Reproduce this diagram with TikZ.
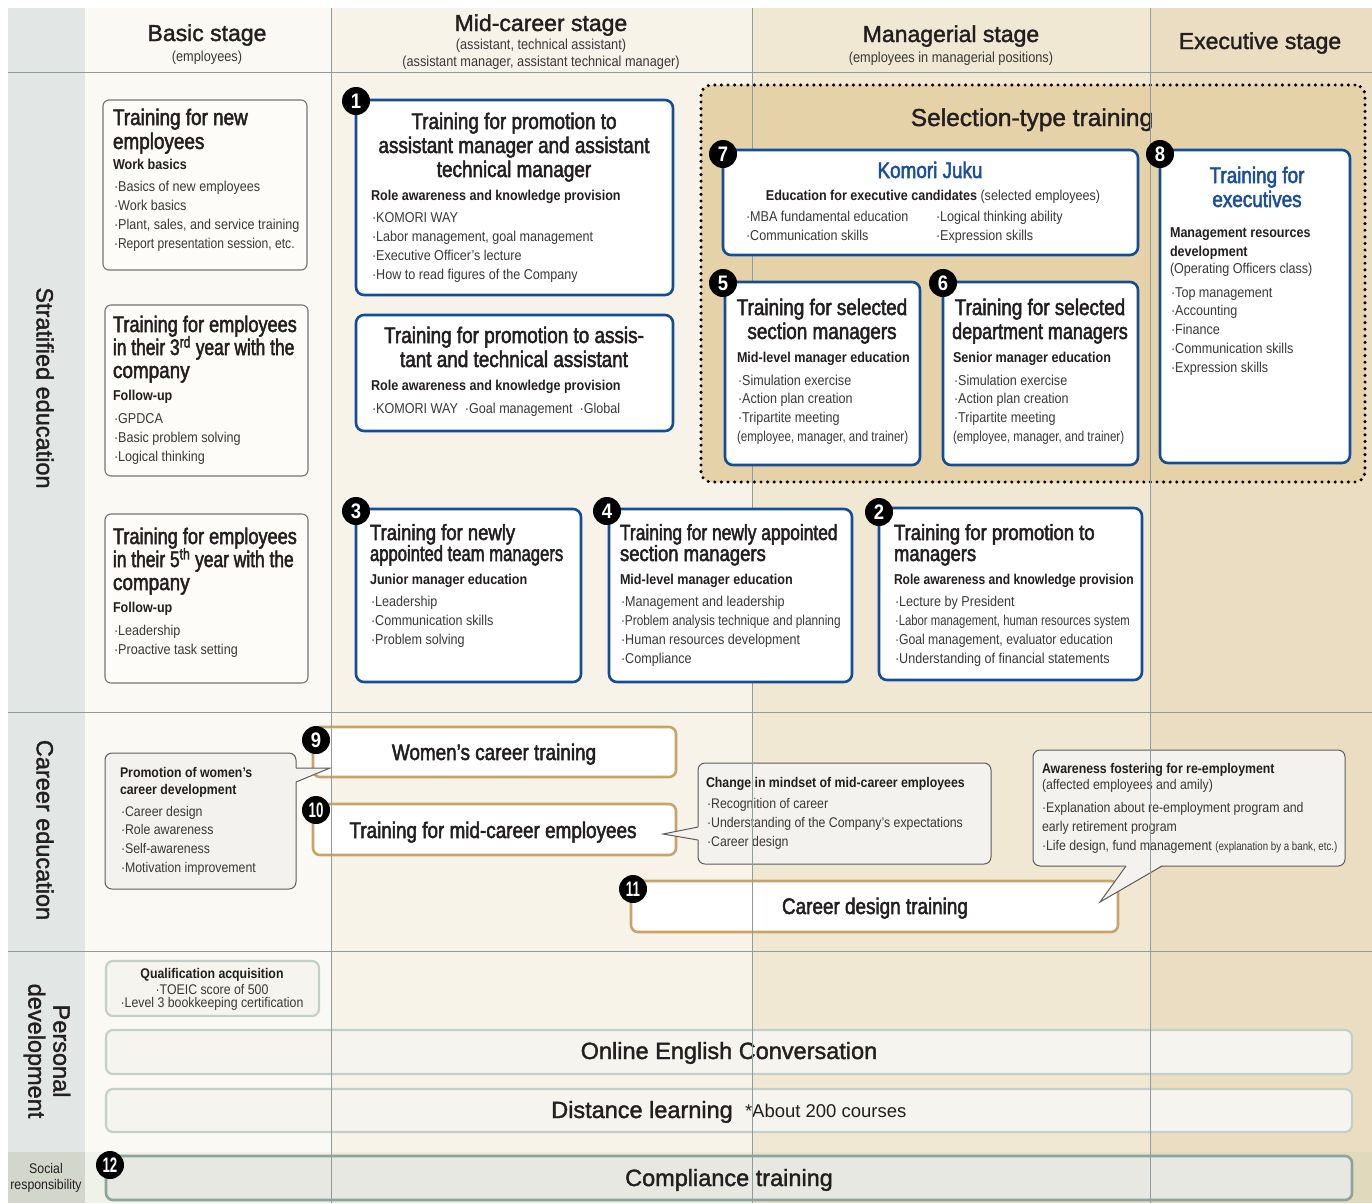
\documentclass[tikz,border=0pt]{standalone}
\usepackage{fontspec}
\setmainfont{Liberation Sans}
\newfontfamily\cn[FakeStretch=0.88]{Liberation Sans}
\newfontfamily\cnt[FakeStretch=0.84,FakeBold=2.2]{Liberation Sans}
\newfontfamily\hv[FakeBold=1.6]{Liberation Sans}
\usepackage{graphicx}
\definecolor{ink}{HTML}{231F20}
\definecolor{ink2}{HTML}{3A3838}
\definecolor{leftc}{HTML}{E2E6E4}
\definecolor{colA}{HTML}{FAF9F4}
\definecolor{colB}{HTML}{F7F3E8}
\definecolor{colC}{HTML}{F1E8D4}
\definecolor{colD}{HTML}{EBDDC1}
\definecolor{gridc}{HTML}{8F9B9D}
\definecolor{selc}{HTML}{E6D2A9}
\definecolor{blueb}{HTML}{134D95}
\definecolor{bluet}{HTML}{1B4F9B}
\definecolor{tanb}{HTML}{C8A46B}
\definecolor{grayb}{HTML}{747474}
\definecolor{grayf}{HTML}{FDFCF9}
\definecolor{callf}{HTML}{F3F2EE}
\definecolor{callb}{HTML}{5C5C5C}
\definecolor{pb}{HTML}{C3CFC9}
\definecolor{pf}{HTML}{F5F4EF}
\definecolor{cb}{HTML}{8DA39C}
\definecolor{cf}{HTML}{E6E8E1}
\definecolor{socc}{HTML}{D3D6CA}
\tikzset{
 zsep/.style={inner sep=0pt, outer sep=0pt},
 boxbase/.style={zsep, anchor=north west, rectangle},
 graybox/.style={boxbase, draw=grayb, line width=1.1pt, fill=grayf, rounded corners=6pt},
 bluebox/.style={boxbase, draw=blueb, line width=2.6pt, fill=white, rounded corners=8pt},
 tanbox/.style={boxbase, draw=tanb, line width=2.6pt, fill=white, rounded corners=7pt},
 callbox/.style={boxbase, draw=callb, line width=1pt, fill=callf, rounded corners=7pt},
 pbox/.style={boxbase, draw=pb, line width=2.2pt, fill=pf, rounded corners=7pt},
 compbox/.style={boxbase, draw=cb, line width=2.6pt, fill=cf, rounded corners=7pt},
 selbox/.style={boxbase, fill=selc, draw=black, line width=3.4pt, dash pattern=on 0pt off 6.6pt, line cap=round, rounded corners=10pt},
 txt/.style={zsep, anchor=base west, text=ink},
 ttl/.style={txt, font=\cnt\fontsize{22.5}{24}\selectfont},
 ttlc/.style={ttl, anchor=base},
 ttls/.style={txt, font=\cnt\fontsize{22}{21}\selectfont},
 sub/.style={txt, font=\cn\bfseries\fontsize{14.3}{19}\selectfont},
 itm/.style={txt, font=\cn\fontsize{14.3}{19}\selectfont, text=ink2},
 csub/.style={txt, font=\cn\bfseries\fontsize{14}{17}\selectfont},
 citm/.style={txt, font=\cn\fontsize{14}{17}\selectfont, text=ink2},
 hd/.style={zsep, anchor=base, text=ink, font=\hv\fontsize{23}{23}\selectfont},
 hs/.style={zsep, anchor=base, text=ink2, font=\cn\fontsize{14.5}{15}\selectfont},
 rot/.style={zsep, anchor=center, rotate=-90, text=ink, font=\hv\fontsize{23.5}{25}\selectfont, align=center},
 big/.style={zsep, anchor=base, text=ink, font=\hv\fontsize{23.5}{24}\selectfont},
 careert/.style={zsep, anchor=base, text=ink, font=\cnt\fontsize{22.5}{24}\selectfont},
 badge/.style={zsep, circle, fill=black, text=white, minimum size=28pt, font=\cn\bfseries\fontsize{21}{21}\selectfont},
 gridln/.style={draw=gridc, line width=0.9pt},
}
\newcommand\bx[6]{\node[#6, minimum width=#4-#2, minimum height=#5-#3] (#1) at (#2,#3) {};}
\newcommand\lns[6]{\foreach \itm [count=\k from 0] in {#6}{\node[#5] (#1\k) at (#2,{#3+\k*#4}) {\itm};}}
\newcommand\bdg[4]{\node[badge] (#1) at (#2,#3) {#4};}
\newcommand\sq[2]{\scalebox{#1}[1]{#2}}
\begin{document}
\begin{tikzpicture}[x=1pt,y=-1pt]
\useasboundingbox (0,0) rectangle (1372,1203);
\fill[white] (0,0) rectangle (1372,1203);
% columns
\fill[leftc] (8,8) rectangle (85,1203);
\fill[colA] (85,8) rectangle (331,1203);
\fill[colB] (331,8) rectangle (752,1203);
\fill[colC] (752,8) rectangle (1150,1203);
\fill[colD] (1150,8) rectangle (1372,1203);
\fill[black!60!green!40, opacity=0.12] (85,1152) rectangle (1372,1203);
\fill[socc] (8,1152) rectangle (85,1203);
% header
\node[hd] (hA) at (207,41) {Basic stage};
\node[hs] (hAs) at (207,61) {(employees)};
\node[hd] (hB) at (541,31) {Mid-career stage};
\node[hs] (hBs1) at (541,49) {(assistant, technical assistant)};
\node[hs] (hBs2) at (541,66) {(assistant manager, assistant technical manager)};
\node[hd] (hC) at (951,42) {Managerial stage};
\node[hs] (hCs) at (951,62) {(employees in managerial positions)};
\node[hd] (hD) at (1260,49) {Executive stage};
% left labels
\node[rot] (lS) at (45,388) {Stratified education};
\node[rot] (lC) at (45,830) {Career education};
\node[rot] (lP) at (47,1051) {Personal\\development};
\node[zsep, align=center, font=\cn\fontsize{14}{16.5}\selectfont, text=ink] (lR) at (46,1178) {Social\\responsibility};
% selection region
\bx{sel}{701}{85}{1365}{482}{selbox}
\node[big, font=\hv\fontsize{24.5}{25}\selectfont] (selT) at (1032,126) {Selection-type training};
% basic stage boxes
\bx{bA}{103}{100}{307}{270}{graybox}
\lns{tA}{113}{125}{24}{ttl}{Training for new,employees}
\node[sub] (sA) at (113,169) {Work basics};
\lns{iA}{114}{191}{19}{itm}{·Basics of new employees,·Work basics,{·Plant, sales, and service training},{\sq{0.96}{·Report presentation session, etc.}}}
\bx{bB}{105}{305}{308}{476}{graybox}
\lns{tB}{113}{332}{23}{ttl}{\sq{0.96}{Training for employees},\sq{0.92}{in their 3\textsuperscript{rd} year with the},company}
\node[sub] (sB) at (113,400) {Follow-up};
\lns{iB}{114}{423}{19}{itm}{·GPDCA,·Basic problem solving,·Logical thinking}
\bx{bC}{105}{514}{308}{683}{graybox}
\lns{tC}{113}{544}{23}{ttl}{\sq{0.96}{Training for employees},\sq{0.92}{in their 5\textsuperscript{th} year with the},company}
\node[sub] (sC) at (113,612) {Follow-up};
\lns{iC}{114}{635}{19}{itm}{·Leadership,·Proactive task setting}
% career boxes
\bx{cW}{313}{727}{676}{777}{tanbox}
\node[careert] (cWt) at (494,760) {Women’s career training};
\bx{cM}{313}{804}{676}{855}{tanbox}
\node[careert] (cMt) at (493,838) {Training for mid-career employees};
\bx{cD}{631}{881}{1118}{932}{tanbox}
\node[careert] (cDt) at (875,914) {Career design training};
% callouts
\bx{kW}{105}{753}{296}{889}{callbox}
\fill[callf] (295,768) -- (330,768) -- (295,782) -- cycle;
\draw[callb, line width=1pt, line join=miter] (296,768) -- (330,768) -- (296,782);
\lns{kWs}{120}{777}{17}{csub}{Promotion of women’s,career development}
\lns{kWi}{121}{816}{18.7}{citm}{·Career design,·Role awareness,·Self-awareness,·Motivation improvement}
\bx{kM}{698}{763}{991}{864}{callbox}
\fill[callf] (699,827) -- (663,834) -- (699,840) -- cycle;
\draw[callb, line width=1pt] (698,827) -- (663,834) -- (698,840);
\node[csub] (kMs) at (706,787) {Change in mindset of mid-career employees};
\lns{kMi}{707}{808}{19}{citm}{·Recognition of career,·Understanding of the Company’s expectations,·Career design}
\bx{kR}{1033}{750}{1345}{866}{callbox}
\fill[callf] (1126,865) -- (1100,902) -- (1162,865) -- cycle;
\draw[callb, line width=1pt] (1126,866) -- (1100,902) -- (1162,866);
\node[csub] (kRs) at (1042,773) {Awareness fostering for re-employment};
\node[citm] (kRs2) at (1042,789) {(affected employees and amily)};
\lns{kRi}{1042}{812}{19}{citm}{·Explanation about re-employment program and,early retirement program,{·Life design, fund management {\fontsize{12}{12}\selectfont\sq{0.92}{(explanation by a bank, etc.)}}}}
% personal development
\bx{pQ}{106}{961}{319}{1016}{pbox}
\node[zsep, anchor=base, font=\cn\bfseries\fontsize{14}{13}\selectfont, text=ink] (pQa) at (212,978) {Qualification acquisition};
\node[zsep, anchor=base, font=\cn\fontsize{14}{13}\selectfont, text=ink2] (pQb) at (212,994) {·TOEIC score of 500};
\node[zsep, anchor=base, font=\cn\fontsize{14}{13}\selectfont, text=ink2] (pQc) at (212,1007) {·Level 3 bookkeeping certification};
\bx{pO}{106}{1030}{1352}{1074}{pbox}
\node[big] (pOt) at (729,1059) {Online English Conversation};
\bx{pD}{106}{1089}{1352}{1132}{pbox}
\node[big] (pDt) at (642,1118) {Distance learning};
\node[zsep, anchor=base west, text=ink, font=\fontsize{18.5}{19}\selectfont] (pDn) at (745,1117) {*About 200 courses};
\bx{pC}{106}{1156}{1352}{1200}{compbox}
\node[big] (pCt) at (729,1186) {Compliance training};
% grid lines
\draw[gridln] (8,72) -- (1372,72);
\draw[gridln] (8,712) -- (1372,712);
\draw[gridln] (8,951) -- (1372,951);
\draw[gridln] (331,8) -- (331,1203);
\draw[gridln] (752,8) -- (752,1203);
\draw[gridln] (1150,8) -- (1150,1203);
% blue boxes
\bx{b1}{356}{100}{673}{295}{bluebox}
\lns{t1}{514}{129}{24}{ttlc}{Training for promotion to,assistant manager and assistant,technical manager}
\node[sub] (s1) at (371,200) {Role awareness and knowledge provision};
\lns{i1}{372}{222}{19}{itm}{·KOMORI WAY,{·Labor management, goal management},·Executive Officer’s lecture,·How to read figures of the Company}
\bx{b1b}{356}{315}{673}{431}{bluebox}
\lns{t1b}{514}{343}{24}{ttlc}{Training for promotion to assis-,tant and technical assistant}
\node[sub] (s1b) at (371,390) {Role awareness and knowledge provision};
\node[itm] (i1b) at (372,413) {·KOMORI WAY\hspace{7pt}·Goal management\hspace{7pt}·Global};
\bx{b7}{723}{150}{1138}{255}{bluebox}
\node[ttlc, text=bluet] (t7) at (930,178) {Komori Juku};
\node[itm, anchor=base, text=ink] (s7) at (933,200) {\textbf{Education for executive candidates} {\color{ink2}(selected employees)}};
\lns{i7a}{746}{221}{19}{itm}{·MBA fundamental education,·Communication skills}
\lns{i7b}{936}{221}{19}{itm}{·Logical thinking ability,·Expression skills}
\bx{b8}{1160}{150}{1350}{463}{bluebox}
\lns{t8}{1257}{183}{24}{ttlc, text=bluet}{Training for,executives}
\lns{s8}{1170}{237}{19}{sub}{Management resources,development}
\node[itm] (s8c) at (1170,273) {(Operating Officers class)};
\lns{i8}{1171}{297}{18.8}{itm}{·Top management,·Accounting,·Finance,·Communication skills,·Expression skills}
\bx{b5}{725}{282}{920}{465}{bluebox}
\lns{t5}{822}{315}{24}{ttlc}{Training for selected,section managers}
\node[sub] (s5) at (737,362) {Mid-level manager education};
\lns{i5}{738}{385}{18.7}{itm}{·Simulation exercise,·Action plan creation,·Tripartite meeting}
\node[itm] (i5x) at (737,441) {\sq{0.92}{(employee, manager, and trainer)}};
\bx{b6}{943}{282}{1138}{465}{bluebox}
\lns{t6}{1040}{315}{24}{ttlc}{Training for selected,\sq{0.95}{department managers}}
\node[sub] (s6) at (953,362) {Senior manager education};
\lns{i6}{954}{385}{18.7}{itm}{·Simulation exercise,·Action plan creation,·Tripartite meeting}
\node[itm] (i6x) at (953,441) {\sq{0.92}{(employee, manager, and trainer)}};
\bx{b3}{356}{509}{581}{682}{bluebox}
\lns{t3}{370}{540}{21}{ttls}{Training for newly,\sq{0.9}{appointed team managers}}
\node[sub] (s3) at (370,584) {Junior manager education};
\lns{i3}{371}{606}{19}{itm}{·Leadership,·Communication skills,·Problem solving}
\bx{b4}{609}{509}{852}{682}{bluebox}
\lns{t4}{620}{540}{21}{ttls}{\sq{0.94}{Training for newly appointed},section managers}
\node[sub] (s4) at (620,584) {Mid-level manager education};
\lns{i4}{621}{606}{19}{itm}{·Management and leadership,\sq{0.94}{·Problem analysis technique and planning},·Human resources development,·Compliance}
\bx{b2}{879}{508}{1142}{680}{bluebox}
\lns{t2}{894}{540}{21}{ttls}{Training for promotion to,managers}
\node[sub] (s2) at (894,584) {\sq{0.96}{Role awareness and knowledge provision}};
\lns{i2}{895}{606}{19}{itm}{·Lecture by President,{\sq{0.9}{·Labor management, human resources system}},{\sq{0.97}{·Goal management, evaluator education}},·Understanding of financial statements}
% badges
\bdg{n1}{356}{101}{1}
\bdg{n2}{879}{512}{2}
\bdg{n3}{356}{511}{3}
\bdg{n4}{607}{511}{4}
\bdg{n5}{723}{283}{5}
\bdg{n6}{943}{283}{6}
\bdg{n7}{723}{154}{7}
\bdg{n8}{1160}{154}{8}
\bdg{n9}{316}{740}{9}
\bdg{n10}{316}{810}{\sq{0.72}{10}}
\bdg{n11}{633}{889}{\sq{0.72}{11}}
\bdg{n12}{110}{1165}{\sq{0.72}{12}}
\end{tikzpicture}
\end{document}
